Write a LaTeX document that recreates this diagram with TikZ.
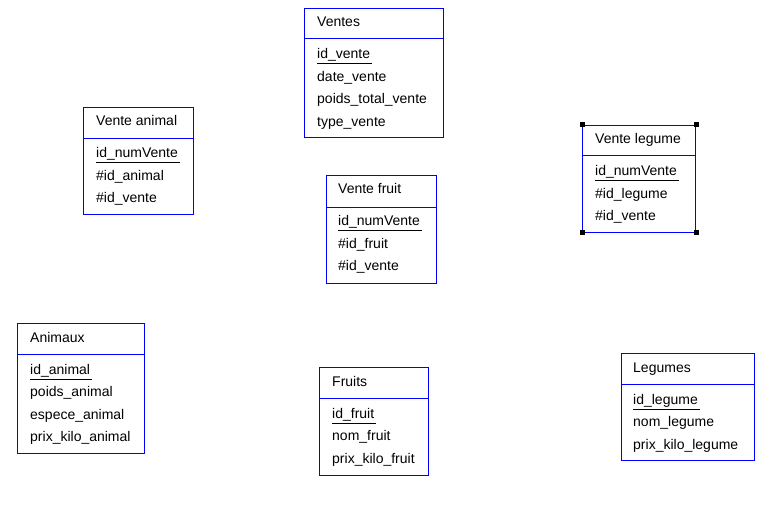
\documentclass[tikz,border=0pt]{standalone}
\usepackage{fontspec}
\setmainfont{Liberation Sans}
\usepackage{xcolor}
\usepackage{tikz}
\usetikzlibrary{positioning}
\usetikzlibrary{calc}
\definecolor{tblblue}{RGB}{0,0,255}
\tikzset{table box/.style={rectangle,draw=tblblue,line width=1pt,anchor=north west,inner sep=0pt},
  table name/.style={anchor=base west,inner sep=0pt,font=\fontsize{14}{16}\selectfont},
  field/.style={anchor=base west,inner sep=0pt,font=\fontsize{14}{16}\selectfont},
  key line/.style={black,line width=1pt},
  handle/.style={rectangle,fill=black,inner sep=0pt,minimum size=5pt},}

\begin{document}
\begin{tikzpicture}[x=1pt,y=-1pt]
    \useasboundingbox (0,0) rectangle (769,505);

    % Ventes
    \node[table box,minimum width=139pt,minimum height=129pt] (ventes) at (304,8) {};
    \draw[tblblue] ($(ventes.north west)+(0,30)$) -- ($(ventes.north east)+(0,30)$);
    \node[table name] (ventes name) at ($(ventes.north west)+(13,19)$) {Ventes};
    \node[field] (ventes f1) at ($(ventes.north west)+(13,51)$) {id\_vente};
    \node[field] (ventes f2) at ($(ventes.north west)+(13,73.5)$) {date\_vente};
    \node[field] (ventes f3) at ($(ventes.north west)+(13,96)$) {poids\_total\_vente};
    \node[field] (ventes f4) at ($(ventes.north west)+(13,118.5)$) {type\_vente};
    \draw[key line] ($(ventes f1.base west)+(0,5)$) -- ($(ventes f1.base east)+(2,5)$);

    % Vente animal
    \node[table box,minimum width=110pt,minimum height=107pt] (vanimal) at (83,107) {};
    \draw[tblblue] ($(vanimal.north west)+(0,31)$) -- ($(vanimal.north east)+(0,31)$);
    \node[table name] (vanimal name) at ($(vanimal.north west)+(13,19)$) {Vente animal};
    \node[field] (vanimal f1) at ($(vanimal.north west)+(13,51)$) {id\_numVente};
    \node[field] (vanimal f2) at ($(vanimal.north west)+(13,73.5)$) {\#id\_animal};
    \node[field] (vanimal f3) at ($(vanimal.north west)+(13,96)$) {\#id\_vente};
    \draw[key line] ($(vanimal f1.base west)+(0,5)$) -- ($(vanimal f1.base east)+(2,5)$);

    % Vente fruit
    \node[table box,minimum width=110pt,minimum height=108pt] (vfruit) at (326,175) {};
    \draw[tblblue] ($(vfruit.north west)+(0,32)$) -- ($(vfruit.north east)+(0,32)$);
    \node[table name] (vfruit name) at ($(vfruit.north west)+(12,19)$) {Vente fruit};
    \node[field] (vfruit f1) at ($(vfruit.north west)+(12,51)$) {id\_numVente};
    \node[field] (vfruit f2) at ($(vfruit.north west)+(12,73.5)$) {\#id\_fruit};
    \node[field] (vfruit f3) at ($(vfruit.north west)+(12,96)$) {\#id\_vente};
    \draw[key line] ($(vfruit f1.base west)+(0,5)$) -- ($(vfruit f1.base east)+(2,5)$);

    % Vente legume
    \node[table box,minimum width=113pt,minimum height=107pt] (vlegume) at (582,125) {};
    \draw[tblblue] ($(vlegume.north west)+(0,30)$) -- ($(vlegume.north east)+(0,30)$);
    \node[table name] (vlegume name) at ($(vlegume.north west)+(13,19)$) {Vente legume};
    \node[field] (vlegume f1) at ($(vlegume.north west)+(13,51)$) {id\_numVente};
    \node[field] (vlegume f2) at ($(vlegume.north west)+(13,73.5)$) {\#id\_legume};
    \node[field] (vlegume f3) at ($(vlegume.north west)+(13,96)$) {\#id\_vente};
    \draw[key line] ($(vlegume f1.base west)+(0,5)$) -- ($(vlegume f1.base east)+(2,5)$);
    \node[handle] (vlegume h1) at (vlegume.north west) {};
    \node[handle] (vlegume h2) at (vlegume.north east) {};
    \node[handle] (vlegume h3) at (vlegume.south west) {};
    \node[handle] (vlegume h4) at (vlegume.south east) {};

    % Animaux
    \node[table box,minimum width=127pt,minimum height=130pt] (animaux) at (17,323) {};
    \draw[tblblue] ($(animaux.north west)+(0,31)$) -- ($(animaux.north east)+(0,31)$);
    \node[table name] (animaux name) at ($(animaux.north west)+(13,19)$) {Animaux};
    \node[field] (animaux f1) at ($(animaux.north west)+(13,51)$) {id\_animal};
    \node[field] (animaux f2) at ($(animaux.north west)+(13,73.5)$) {poids\_animal};
    \node[field] (animaux f3) at ($(animaux.north west)+(13,96)$) {espece\_animal};
    \node[field] (animaux f4) at ($(animaux.north west)+(13,118.5)$) {prix\_kilo\_animal};
    \draw[key line] ($(animaux f1.base west)+(0,5)$) -- ($(animaux f1.base east)+(2,5)$);

    % Fruits
    \node[table box,minimum width=109pt,minimum height=108pt] (fruits) at (319,367) {};
    \draw[tblblue] ($(fruits.north west)+(0,31)$) -- ($(fruits.north east)+(0,31)$);
    \node[table name] (fruits name) at ($(fruits.north west)+(13,19)$) {Fruits};
    \node[field] (fruits f1) at ($(fruits.north west)+(13,51)$) {id\_fruit};
    \node[field] (fruits f2) at ($(fruits.north west)+(13,73.5)$) {nom\_fruit};
    \node[field] (fruits f3) at ($(fruits.north west)+(13,96)$) {prix\_kilo\_fruit};
    \draw[key line] ($(fruits f1.base west)+(0,5)$) -- ($(fruits f1.base east)+(2,5)$);

    % Legumes
    \node[table box,minimum width=133pt,minimum height=107pt] (legumes) at (621,353) {};
    \draw[tblblue] ($(legumes.north west)+(0,31)$) -- ($(legumes.north east)+(0,31)$);
    \node[table name] (legumes name) at ($(legumes.north west)+(12,19)$) {Legumes};
    \node[field] (legumes f1) at ($(legumes.north west)+(12,51)$) {id\_legume};
    \node[field] (legumes f2) at ($(legumes.north west)+(12,73.5)$) {nom\_legume};
    \node[field] (legumes f3) at ($(legumes.north west)+(12,96)$) {prix\_kilo\_legume};
    \draw[key line] ($(legumes f1.base west)+(0,5)$) -- ($(legumes f1.base east)+(2,5)$);
\end{tikzpicture}
\end{document}
